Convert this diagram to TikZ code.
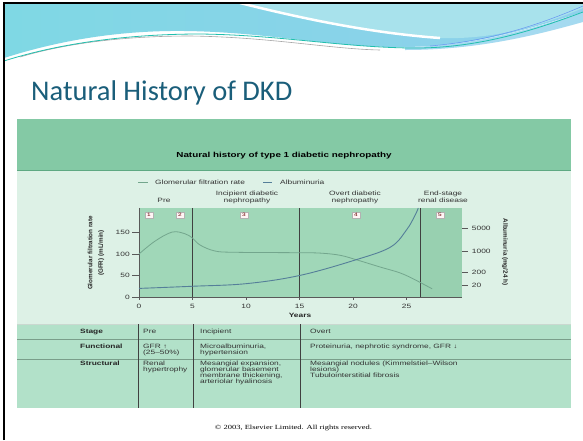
\documentclass[tikz,border=0pt]{standalone}
\usepackage{fontspec}
\setmainfont{Liberation Serif}
\newfontfamily\titlefont{Carlito}
\newfontfamily\figfont[FakeStretch=1.35]{Liberation Sans}
\newfontfamily\figvert{Liberation Sans}
\newfontfamily\figserif[FakeStretch=1.35]{Liberation Serif}
\usetikzlibrary{positioning,calc}

\definecolor{bannerL}{HTML}{7FD8E4}
\definecolor{bannerR}{HTML}{8FD0EC}
\definecolor{bannerlight}{HTML}{A8E2EC}
\definecolor{swooshteal}{HTML}{22BFAE}
\definecolor{titleblue}{HTML}{1A5E7A}
\definecolor{headgreen}{HTML}{84C9A5}
\definecolor{headrule}{HTML}{5EA983}
\definecolor{bodygreen}{HTML}{DDF1E6}
\definecolor{plotgreen}{HTML}{A0D7B8}
\definecolor{plotgreenR}{HTML}{98D0B0}
\definecolor{tablegreen}{HTML}{B2E1C9}
\definecolor{tablerule}{HTML}{7A9E8A}
\definecolor{gfrcol}{HTML}{73A68D}
\definecolor{albcol}{HTML}{557F99}

\begin{document}
\begin{tikzpicture}[x=1pt, y=-1pt,
    figtext/.style={font=\figfont\fontsize{6.2}{6}\selectfont, inner sep=0pt, text=black!80},
    figbold/.style={font=\figfont\bfseries\fontsize{6.2}{6}\selectfont, inner sep=0pt, text=black!85},
    stagelabel/.style={font=\figfont\fontsize{6.2}{7}\selectfont, inner sep=0pt,
      align=center, anchor=north, text=black!80},
    axislabel/.style={font=\figvert\bfseries\fontsize{6.3}{10.5}\selectfont, inner sep=0pt,
      align=center, text=black!85},
    cellnote/.style={figtext, align=left, anchor=north west},
    numbox/.style={draw=gray!60, fill=white!85!pink, minimum width=8pt,
      minimum height=6.2pt, inner sep=0pt, text=red!40!black,
      font=\figfont\fontsize{4.8}{4.8}\selectfont},
    stageline/.style={draw=black!75, line width=0.7pt},
    axisline/.style={draw=black!65, line width=0.5pt},
    rowline/.style={draw=tablerule, line width=0.6pt},
    gfrline/.style={draw=gfrcol, line width=0.8pt},
    albline/.style={draw=albcol, line width=0.9pt}]

  \useasboundingbox (0,0) rectangle (583,440);
  \fill[white] (0,0) rectangle (583,440);

  % banner
  \shade[left color=bannerL, right color=bannerR] (4,3) -- (583,3) -- (583,12)
    .. controls (520,32) and (470,46) .. (405,47)
    .. controls (330,48) and (260,30) .. (170,31)
    .. controls (100,32) and (45,45) .. (4,58) -- cycle;
  \fill[bannerlight] (240,3) .. controls (300,18) and (370,33) .. (440,38)
    .. controls (500,40) and (550,22) .. (583,8) -- (583,3) -- cycle;
  \draw[white, line width=2.5pt] (240,3) .. controls (300,18) and (370,33) .. (440,38);
  \fill[bannerR!80!white] (405,47) .. controls (480,46) and (540,26) .. (583,12)
    -- (583,22) .. controls (540,34) and (480,50) .. (405,50) -- cycle;
  \draw[gray!70, line width=0.6pt] (20,57) .. controls (70,42) and (130,36) .. (190,36)
    .. controls (270,37) and (330,49) .. (380,50);
  \draw[swooshteal, line width=0.8pt] (4,61) .. controls (60,43) and (130,34) .. (200,34)
    .. controls (280,35) and (340,47) .. (410,48)
    .. controls (480,49) and (540,28) .. (583,12);
  \draw[bannerR!70!blue, line width=0.5pt] (430,46) .. controls (500,40) and (550,20) .. (583,6);

  \draw[black, line width=2pt] (4,440) -- (4,3.3) -- (583,3.3);

  \node[font=\titlefont\fontsize{28.5}{30}\selectfont, text=titleblue, anchor=base west,
    inner sep=0pt] (title) at (31,100) {Natural History of DKD};

  % figure frame
  \fill[bodygreen] (17,170) rectangle (571,408);
  \fill[headgreen] (17,119) rectangle (571,170);
  \draw[headrule, line width=1pt] (17,170) -- (571,170);
  \node[font=\figfont\bfseries\fontsize{7.3}{8}\selectfont, inner sep=0pt]
    (charttitle) at (284,155.5) {Natural history of type 1 diabetic nephropathy};

  % legend
  \coordinate (gfrkeyA) at (138,182);
  \coordinate (gfrkeyB) at (148,182);
  \coordinate (albkeyA) at (263,182);
  \coordinate (albkeyB) at (272,182);
  \draw[gfrline] (gfrkeyA) -- (gfrkeyB);
  \node[figtext, anchor=west] (gfrkey) at (155,182) {Glomerular filtration rate};
  \draw[albline] (albkeyA) -- (albkeyB);
  \node[figtext, anchor=west] (albkey) at (280,182) {Albuminuria};

  % stages above the plot
  \node[stagelabel] (lblpre) at (164,198.5) {Pre};
  \node[stagelabel] (lblinc) at (247,191) {Incipient diabetic\\nephropathy};
  \node[stagelabel] (lblovert) at (355,191) {Overt diabetic\\nephropathy};
  \node[stagelabel] (lblesrd) at (443,191) {End-stage\\renal disease};

  % plot
  \begin{scope}[shift={(139,297)}, x=10.7pt, y=0.43pt]
    \fill[plotgreen] (0,0) rectangle (26.3,207);
    \fill[plotgreenR] (26.3,0) rectangle (30.2,207);
    \foreach \yr in {5,15,26.3}
      \draw[stageline] (\yr,0) -- (\yr,207);
    \draw[axisline] (0,207) -- (0,0) -- (30.2,0);
    \foreach \v in {0,50,100,150} {
      \draw[axisline] (-0.65,\v) -- (0,\v);
      \node[figtext, anchor=east] (gfr\v) at (-0.85,\v) {\v};
    }
    \foreach \yr in {0,5,...,25} {
      \draw[axisline] (\yr,0) -- (\yr,-7);
      \node[figtext, anchor=north] (yr\yr) at (\yr,-17) {\yr};
    }
    \foreach \v/\lab in {160/5000, 107/1000, 58/200, 28/20} {
      \draw[axisline] (30.2,\v) -- (30.75,\v);
      \node[figtext, anchor=west] (alb\lab) at (31.1,\v) {\lab};
    }
    \draw[gfrline] plot[smooth, tension=0.6] coordinates {(0,100) (1.5,130) (3.1,151)
      (4.3,147) (5,137) (5.7,121) (7.1,107) (9,104) (15,103) (17,102) (18.8,97)
      (20.4,86) (22.5,70) (24.4,56) (25.8,40) (27.4,19)};
    \draw[albline] plot[smooth, tension=0.6] coordinates {(0,20) (5,25) (10,31)
      (15,50) (20.2,86) (23.5,116) (25,156) (25.8,190) (26.1,207)};
  \end{scope}

  \foreach \n/\bx in {1/148.8, 2/180, 3/244, 4/356, 5/440}
    \node[numbox] (stage\n) at (\bx,215) {\n};

  \node[figbold] (years) at (300,315) {Years};
  \node[axislabel, rotate=90] (gfraxis) at (96,253)
    {Glomerular filtration rate\\(GFR) (mL/min)};
  \node[axislabel, rotate=-90] (albaxis) at (505,252) {Albuminuria (mg/24 h)};

  % table
  \fill[tablegreen] (17,324) rectangle (571,408);
  \draw[rowline, draw=tablerule!40] (17,324) -- (571,324);
  \foreach \ry in {339,359}
    \draw[rowline] (17,\ry) -- (571,\ry);
  \foreach \cx in {138,193,300}
    \draw[stageline] (\cx,324) -- (\cx,408);

  \node[figbold, anchor=north west] (rowstage) at (80,329) {Stage};
  \node[figbold, anchor=north west] (rowfunc) at (80,344) {Functional};
  \node[figbold, anchor=north west] (rowstruct) at (80,361) {Structural};

  \node[cellnote] (prestage) at (143,329) {Pre};
  \node[cellnote] (incstage) at (200,329) {Incipient};
  \node[cellnote] (ovtstage) at (310,329) {Overt};
  \node[cellnote] (prefunc) at (143,344) {GFR ↑\\(25–50\%)};
  \node[cellnote] (incfunc) at (200,344) {Microalbuminuria,\\hypertension};
  \node[cellnote] (ovtfunc) at (310,344) {Proteinuria, nephrotic syndrome, GFR ↓};
  \node[cellnote] (prestruct) at (143,361) {Renal\\hypertrophy};
  \node[cellnote] (incstruct) at (200,361)
    {Mesangial expansion,\\glomerular basement\\membrane thickening,\\arteriolar hyalinosis};
  \node[cellnote] (ovtstruct) at (310,361)
    {Mesangial nodules (Kimmelstiel–Wilson\\lesions)\\Tubulointerstitial fibrosis};

  \node[font=\figserif\fontsize{6.3}{7}\selectfont, inner sep=0pt]
    (copyright) at (293.5,428) {© 2003, Elsevier Limited. All rights reserved.};
\end{tikzpicture}
\end{document}
